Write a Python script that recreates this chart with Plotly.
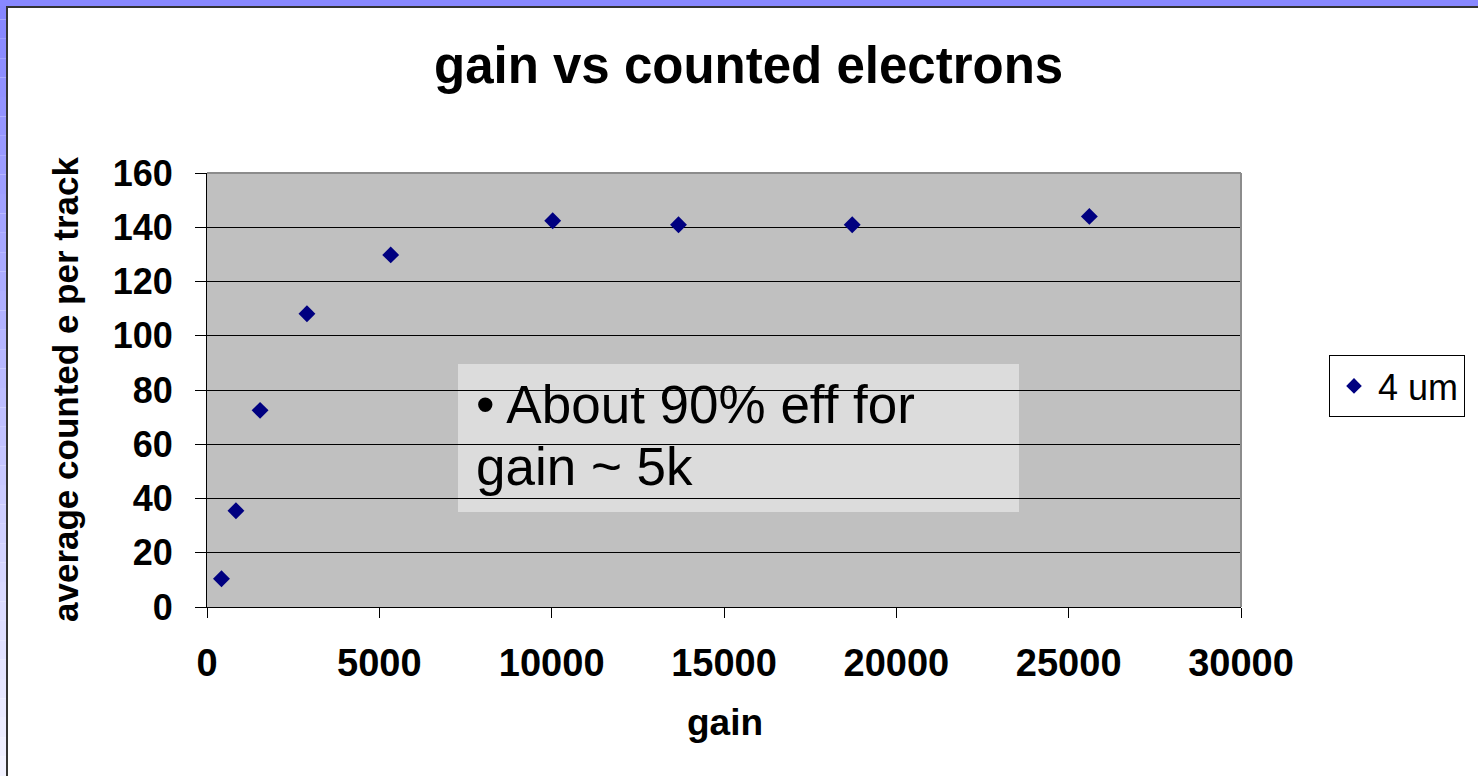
import plotly.graph_objects as go

# Measured gain and average counted electrons per track (4 um)
gain = [420, 840, 1540, 2900, 5330, 10030, 13680, 18720, 25600]
counted_e = [10.4, 35.5, 72.5, 108.1, 129.8, 142.4, 140.9, 140.9, 144.0]
series_name = "4 um"

x_ticks = [0, 5000, 10000, 15000, 20000, 25000, 30000]
y_ticks = [0, 20, 40, 60, 80, 100, 120, 140, 160]

note_lines = ["\u2022 About 90% eff for", "gain ~ 5k"]

W, H = 1478, 776
L, R, T, B = 207, 1241, 173, 607  # plot area in pixels


def px(xp):
    return (xp - L) / (R - L)


def py(yp):
    return (B - yp) / (B - T)


FONT = "Liberation Sans, Arial, sans-serif"

fig = go.Figure()
fig.add_trace(go.Scatter(
    x=gain, y=counted_e, mode="markers", name=series_name,
    marker=dict(symbol="diamond", size=13, color="#000080"),
))

shapes = []
# slide frame: gradient bar on the left, solid bar on top
n = 40
for i in range(n):
    y0, y1 = H * i / n, H * (i + 1) / n
    t = i / (n - 1)
    c = int(0x86 + (0xF2 - 0x86) * t)
    shapes.append(dict(type="rect", xref="paper", yref="paper",
                       x0=px(0), x1=px(6), y0=py(y1), y1=py(y0),
                       fillcolor=f"rgb({c},{c},255)", line_width=0, layer="above"))
shapes.append(dict(type="rect", xref="paper", yref="paper",
                   x0=px(0), x1=px(W), y0=py(6), y1=py(0),
                   fillcolor="#8888FF", line_width=0, layer="above"))
shapes.append(dict(type="line", xref="paper", yref="paper",
                   x0=px(7), x1=px(7), y0=py(H), y1=py(6.5),
                   line=dict(color="#333333", width=2), layer="above"))
shapes.append(dict(type="line", xref="paper", yref="paper",
                   x0=px(6), x1=px(W), y0=py(7), y1=py(7),
                   line=dict(color="#333333", width=2), layer="above"))
# note box behind the gridlines
shapes.append(dict(type="rect", xref="paper", yref="paper",
                   x0=px(458), x1=px(1019), y0=py(512), y1=py(364),
                   fillcolor="#DCDCDC", line_width=0, layer="below"))
# top and right border of the plot area
shapes.append(dict(type="line", xref="paper", yref="paper", x0=0, x1=1, y0=1, y1=1,
                   line=dict(color="#8C8C8C", width=2), layer="above"))
shapes.append(dict(type="line", xref="paper", yref="paper", x0=1, x1=1, y0=0, y1=1,
                   line=dict(color="#8C8C8C", width=2), layer="above"))

annotations = [
    dict(text="<b>gain vs counted electrons</b>", xref="paper", yref="paper",
         x=px(748), y=py(66), xanchor="center", yanchor="middle", showarrow=False,
         font=dict(family=FONT, size=51, color="black")),
    dict(text="<b>gain</b>", xref="paper", yref="paper",
         x=px(725), y=py(722), xanchor="center", yanchor="middle", showarrow=False,
         font=dict(family=FONT, size=37, color="black")),
    dict(text="<b>average counted e per track</b>", xref="paper", yref="paper",
         x=px(65), y=py(390), xanchor="center", yanchor="middle", showarrow=False,
         textangle=-90, font=dict(family=FONT, size=35, color="black")),
]
# note text, one annotation per line
for line, yc in zip(note_lines, [404, 466]):
    annotations.append(dict(text=line, xref="paper", yref="paper",
                            x=px(474), y=py(yc), xanchor="left", yanchor="middle",
                            align="left", showarrow=False,
                            font=dict(family=FONT, size=53, color="black")))

fig.update_layout(
    width=W, height=H,
    margin=dict(l=L, r=W - R, t=T, b=H - B, pad=0),
    paper_bgcolor="white", plot_bgcolor="#C0C0C0",
    showlegend=True,
    legend=dict(x=px(1329), y=py(386), xanchor="left", yanchor="middle",
                bgcolor="white", bordercolor="black", borderwidth=1,
                font=dict(family=FONT, size=36, color="black"),
                itemsizing="constant", itemwidth=38),
    shapes=shapes, annotations=annotations,
    xaxis=dict(range=[0, 30000], tickvals=x_ticks, ticktext=[str(v) for v in x_ticks],
               showgrid=False, zeroline=False, showline=True, linecolor="black", linewidth=1,
               ticks="outside", ticklen=10, tickcolor="black", ticklabelstandoff=12,
               tickfont=dict(family=FONT, size=38, color="black", weight="bold")),
    yaxis=dict(range=[0, 160], tickvals=y_ticks, ticktext=[str(v) for v in y_ticks],
               showgrid=True, gridcolor="black", gridwidth=1, zeroline=False,
               showline=True, linecolor="black", linewidth=1,
               ticks="outside", ticklen=11, tickcolor="black", ticklabelstandoff=15,
               tickfont=dict(family=FONT, size=36, color="black", weight="bold")),
)

fig.write_html("out.html")
